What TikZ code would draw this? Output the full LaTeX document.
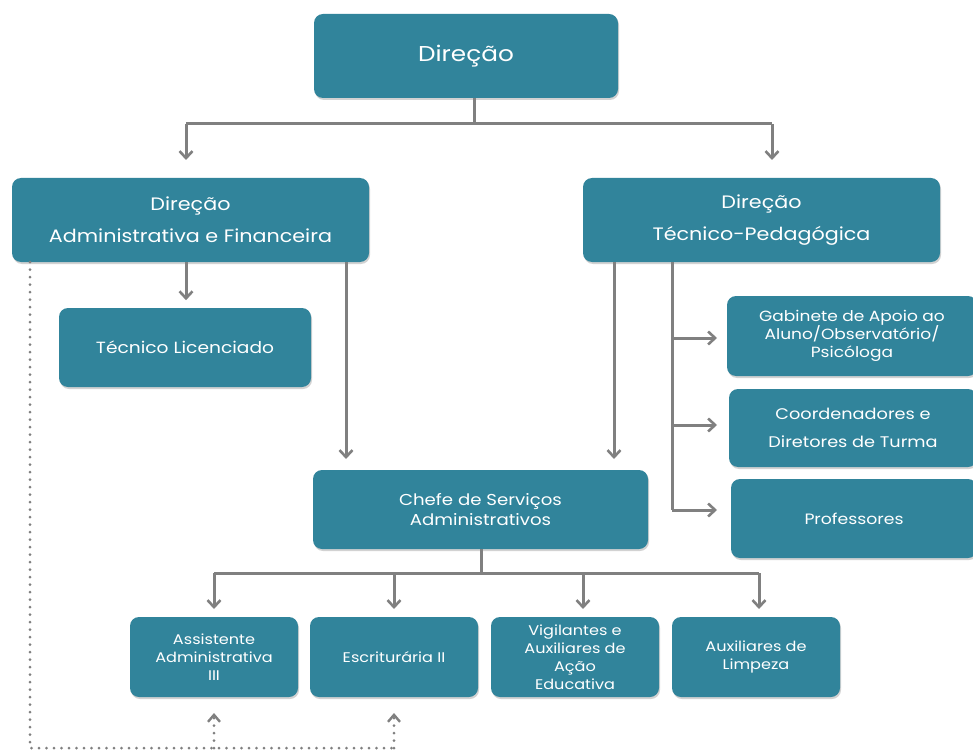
\documentclass[tikz,border=0pt]{standalone}
\usepackage{fontspec}
\setmainfont[FakeStretch=1.15]{Poppins}
\usetikzlibrary{arrows.meta,shadows}
\definecolor{boxteal}{RGB}{49,132,155}
\definecolor{linegray}{RGB}{128,128,128}
\tikzset{
  box/.style={fill=boxteal, draw=none, rounded corners=9pt, text=white, align=center,
    inner sep=0pt, drop shadow={opacity=0.35, shadow xshift=1pt, shadow yshift=-2pt}},
  conn/.style={draw=linegray, line width=3pt},
  arr/.style={conn, -{Straight Barb[length=7pt,width=13pt,line width=2.6pt]}},
  dots/.style={draw=linegray, line width=3pt, dash pattern=on 0pt off 7.5pt, line cap=round},
  darr/.style={dots, -{Straight Barb[length=7pt,width=12pt,line width=2.4pt]}}
}
\begin{document}
\begin{tikzpicture}[x=1pt,y=-1pt]
\useasboundingbox[fill=white] (0,0) rectangle (973,751);
% boxes
\node[box, minimum width=304pt, minimum height=84pt, font=\fontsize{21.5}{26}\selectfont] (dir) at (466,56) {Direção};
\node[box, minimum width=357pt, minimum height=84pt, font=\fontsize{18}{32}\selectfont] (daf) at (190.5,220) {Direção\\Administrativa e Financeira};
\node[box, minimum width=357pt, minimum height=84pt, font=\fontsize{18}{32}\selectfont] (dtp) at (761.5,220) {Direção\\Técnico-Pedagógica};
\node[box, minimum width=252pt, minimum height=79pt, font=\fontsize{16.2}{20}\selectfont] (tec) at (185,347.5) {Técnico Licenciado};
\node[box, minimum width=335pt, minimum height=79pt, font=\fontsize{15.8}{20}\selectfont] (chefe) at (480.5,509.5) {Chefe de Serviços\\Administrativos};
\node[box, minimum width=250pt, minimum height=80pt, font=\fontsize{14.8}{18}\selectfont] (gab) at (852,336) {Gabinete de Apoio ao\\Aluno/Observatório/\\Psicóloga};
\node[box, minimum width=248pt, minimum height=78pt, font=\fontsize{15.4}{28}\selectfont] (coord) at (853,428) {Coordenadores e\\Diretores de Turma};
\node[box, minimum width=246pt, minimum height=79pt, font=\fontsize{15}{18}\selectfont] (prof) at (854,518.5) {Professores};
\node[box, minimum width=168pt, minimum height=80pt, font=\fontsize{14}{18}\selectfont] (assist) at (214,657) {Assistente\\Administrativa\\III};
\node[box, minimum width=168pt, minimum height=80pt, font=\fontsize{14}{18}\selectfont] (escr) at (394,657) {Escriturária II};
\node[box, minimum width=168pt, minimum height=80pt, font=\fontsize{14}{18}\selectfont] (vig) at (575,657) {Vigilantes e\\Auxiliares de\\Ação\\Educativa};
\node[box, minimum width=168pt, minimum height=80pt, font=\fontsize{14}{18}\selectfont] (aux) at (756,657) {Auxiliares de\\Limpeza};
% junction coordinates
\coordinate (j1) at (474,124);
\coordinate (j1l) at (186,124);
\coordinate (j1r) at (772,124);
\coordinate (j2) at (481,573);
\coordinate (b1) at (214,573);
\coordinate (b2) at (394,573);
\coordinate (b3) at (583,573);
\coordinate (b4) at (759,573);
\coordinate (t1) at (672,262);
\coordinate (t2) at (672,510);
\coordinate (dd) at (30,748);
\coordinate (de) at (394,748);
\coordinate (da) at (214,748);
% top connectors
\draw[conn] (dir.south -| j1) -- (j1);
\draw[conn] (j1l) -- (j1r);
\draw[arr] (j1l) -- ++(0,36);
\draw[arr] (j1r) -- ++(0,36);
% DAF
\draw[arr] (daf.south -| j1l) -- ++(0,38);
\draw[arr] (346,262) -- (346,459);
% DTP
\draw[arr] (614,262) -- (614,459);
\draw[conn] (t1) -- (t2);
\draw[arr] (672,338) -- (717,338);
\draw[arr] (672,425) -- (717,425);
\draw[arr] (t2) -- (717,510);
% Chefe
\draw[conn] (chefe.south -| j2) -- (j2);
\draw[conn] (b1) -- (b4);
\draw[arr] (b1) -- ++(0,36);
\draw[arr] (b2) -- ++(0,36);
\draw[arr] (b3) -- ++(0,36);
\draw[arr] (b4) -- ++(0,36);
% dotted
\draw[dots] (30,262) -- (dd) -- (de);
\draw[darr] (da) -- (214,713);
\draw[darr] (de) -- (394,713);
\end{tikzpicture}
\end{document}
